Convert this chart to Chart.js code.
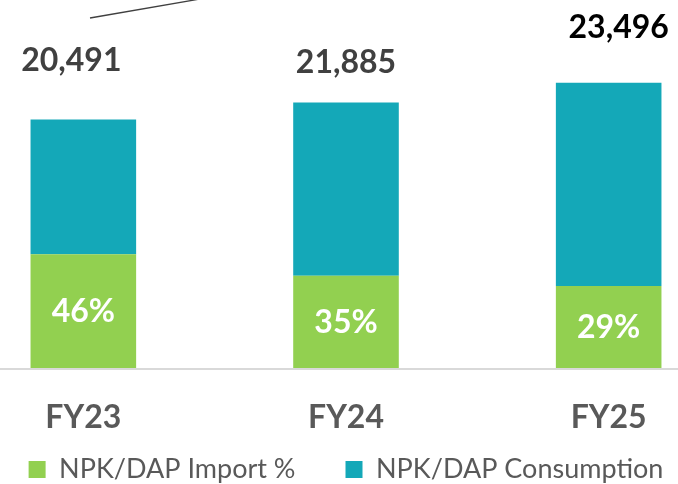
<!DOCTYPE html>
<html>
<head>
<meta charset="utf-8">
<script src="https://cdn.jsdelivr.net/npm/chart.js@4/dist/chart.umd.min.js"></script>
<style>
  html, body { margin: 0; padding: 0; background: #ffffff; overflow: hidden; }
  body { width: 678px; height: 484px; position: relative; }
  #wrap { position: absolute; left: -48px; top: 0; width: 788px; height: 526px; }
</style>
</head>
<body>
<div id="wrap"><canvas id="chart"></canvas></div>
<script>
// Fiscal years shown on the x axis
const years = ['FY23', 'FY24', 'FY25'];
// Total NPK/DAP consumption per year
const totalConsumption = [20491, 21885, 23496];
// Share of consumption met by imports (%)
const importShare = [46, 35, 29];

// Stack pieces: imported part at the bottom, the rest above it
const importPart = totalConsumption.map((t, i) => t * importShare[i] / 100);
const otherPart = totalConsumption.map((t, i) => t - importPart[i]);

// Label placement tweaks for the totals (px above the bar top, px sideways)
const totalLift = [59, 40, 55];
const totalShift = [-12, 0, 10];
const totalColors = ['#404040', '#404040', '#000000'];

Chart.defaults.font.family = 'Lato';

const valueLabels = {
  id: 'valueLabels',
  afterLayout(chart) {
    // pull the legend up so it sits close under the year labels
    const lg = chart.legend;
    if (lg) { lg.top -= 33; lg.bottom -= 33; }
  },
  afterDatasetsDraw(chart) {
    const ctx = chart.ctx;
    const lower = chart.getDatasetMeta(0).data;
    const upper = chart.getDatasetMeta(1).data;
    ctx.save();
    ctx.textAlign = 'center';
    ctx.textBaseline = 'middle';
    ctx.font = 'bold 32px Lato';
    years.forEach((y, i) => {
      const seg = lower[i];
      ctx.fillStyle = '#ffffff';
      ctx.fillText(importShare[i] + '%', seg.x, (seg.y + seg.base) / 2);
      const top = upper[i];
      ctx.fillStyle = totalColors[i];
      ctx.fillText(totalConsumption[i].toLocaleString('en-US'), top.x + totalShift[i], top.y - totalLift[i]);
    });
    ctx.restore();
  },
  afterDraw(chart) {
    // thin leader line entering from the top edge
    const ctx = chart.ctx;
    ctx.save();
    ctx.strokeStyle = '#404040';
    ctx.lineWidth = 1.3;
    ctx.beginPath();
    ctx.moveTo(138, 18);
    ctx.lineTo(248, -1);
    ctx.stroke();
    ctx.restore();
  }
};

new Chart(document.getElementById('chart'), {
  type: 'bar',
  data: {
    labels: years,
    datasets: [
      {
        label: 'NPK/DAP Import %',
        data: importPart,
        backgroundColor: '#92D050',
        borderWidth: 0,
        barPercentage: 0.402,
        categoryPercentage: 1
      },
      {
        label: 'NPK/DAP Consumption',
        data: otherPart,
        backgroundColor: '#14A8B8',
        borderWidth: 0,
        barPercentage: 0.402,
        categoryPercentage: 1
      }
    ]
  },
  options: {
    responsive: true,
    maintainAspectRatio: false,
    devicePixelRatio: 1,
    animation: false,
    layout: { padding: 0 },
    plugins: {
      legend: {
        position: 'bottom',
        labels: {
          boxWidth: 17,
          boxHeight: 17,
          padding: 50,
          color: '#595959',
          font: { size: 27, family: 'Lato' }
        }
      },
      tooltip: { enabled: false }
    },
    scales: {
      x: {
        stacked: true,
        grid: { display: false, drawTicks: false },
        border: { display: true, color: '#D9D9D9', width: 2, z: 1 },
        ticks: {
          padding: 29,
          color: '#595959',
          font: { size: 32, weight: 'bold', family: 'Lato' }
        },
        afterFit(scale) { scale.height = 70; }
      },
      y: {
        stacked: true,
        display: false,
        min: 0,
        max: 30300
      }
    }
  },
  plugins: [valueLabels]
});
</script>
</body>
</html>
